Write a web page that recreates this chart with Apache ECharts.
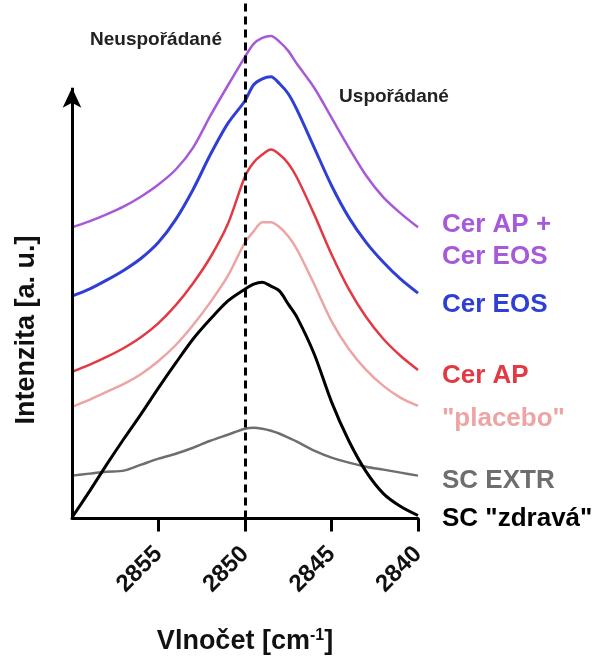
<!DOCTYPE html>
<html>
<head>
<meta charset="utf-8">
<script src="https://cdn.jsdelivr.net/npm/echarts@6/dist/echarts.min.js"></script>
<style>html,body{margin:0;padding:0;background:#fff;}#c{width:614px;height:660px;}</style>
</head>
<body>
<div id="c"></div>
<script>
// Wavenumber (cm^-1)
var wavenumbers = [2860,2859,2858,2857,2856,2855,2854,2853,2852,2851,2850,2849.5,2849,2848.5,2848,2847.5,2847,2846,2845,2844,2843,2842,2841,2840];
// Intensity (a. u.)
var cerApEos = [292,298,305,313,323,335,350,372,404,434,463,476,482,484,478,469,456,432,402,372,344,322,306,292];
var cerEos   = [223,230,239,249,261,277,300,330,365,396,419,435,441,443,436,426,410,372,334,302,277,257,240,226];
var cerAp    = [147,154,162,171,182,196,214,236,262,295,343,357,365,370,365,356,342,305,265,230,202,180,163,149];
var placebo  = [112,119,127,135,145,158,174,194,217,243,277,288,297,297,292,283,270,235,198,170,149,133,121,113];
var scExtr   = [43,45,47,48,54,60,65,71,78,84,90,91,90,88,85,81,77,68,61,56,52,49,46,43];
var scHealthy= [1,27,54,80,105,131,156,180,200,218,230,235,237,233,228,215,202,165,117,78,47,25,12,3];
var tickValues = [2840,2845,2850,2855];
var seriesNames = ['Cer AP +\nCer EOS','Cer EOS','Cer AP','"placebo"','SC EXTR','SC "zdravá"'];

var FONT = '"Liberation Sans", Arial, sans-serif';
function pairs(arr){ return wavenumbers.map(function(w,i){ return [w, arr[i]]; }); }

var specs = [
  {name: seriesNames[0], data: cerApEos, color:'#a659d8', width:2.5, off:13},
  {name: seriesNames[1], data: cerEos, color:'#2f3fd6', width:3, off:12},
  {name: seriesNames[2], data: cerAp, color:'#e23a44', width:2.5, off:6},
  {name: seriesNames[3], data: placebo, color:'#eda4a4', width:2.5, off:13},
  {name: seriesNames[4], data: scExtr, color:'#6e6e6e', width:2.5, off:5},
  {name: seriesNames[5], data: scHealthy, color:'#000000', width:3, off:3}
];

var series = specs.map(function(s){
  return {
    type:'line', name:s.name, data:pairs(s.data), showSymbol:false, smooth:0.3,
    lineStyle:{color:s.color, width:s.width}, itemStyle:{color:s.color},
    emphasis:{disabled:true}, animation:false,
    endLabel:{show:true, formatter:s.name, color:s.color, fontFamily:FONT, fontWeight:'bold',
      fontSize:26, lineHeight:32, distance:24, offset:[48,s.off], align:'left'}
  };
});

series.push({
  type:'line', data:[], silent:true, animation:false,
  markLine:{
    silent:true, animation:false, label:{show:false},
    data:[
      [{coord:[2860,0], symbol:'none', lineStyle:{color:'#000', width:3, type:'solid'}},
       {coord:[2860,432], symbol:'arrow', symbolSize:[14,20]}],
      [{coord:[2850,0], symbol:'none', lineStyle:{color:'#000', width:3, type:[8,5]}},
       {coord:[2850,520], symbol:'none'}]
    ]
  }
});

var chart = echarts.init(document.getElementById('c'), null, {renderer:'canvas'});
chart.setOption({
  backgroundColor:'#fff',
  animation:false,
  grid:{left:72, right:196, top:0, bottom:140},
  xAxis:{
    type:'value', min:2840, max:2860, interval:5, inverse:true,
    name:'Vlnočet [cm{sup|-1}]', nameLocation:'middle', nameGap:109,
    nameTextStyle:{fontFamily:FONT, fontWeight:'bold', fontSize:27, color:'#111',
      rich:{sup:{fontFamily:FONT, fontWeight:'bold', fontSize:16, color:'#111', verticalAlign:'top', padding:[0,0,12,0]}}},
    axisLine:{show:true, onZero:false, lineStyle:{color:'#000', width:3}},
    axisTick:{show:true, customValues:tickValues, length:13, lineStyle:{color:'#000', width:3}},
    axisLabel:{customValues:tickValues, rotate:45, margin:32, fontFamily:FONT, fontWeight:'bold', fontSize:24, color:'#111',
      formatter:function(v){ return String(v); }},
    splitLine:{show:false}
  },
  yAxis:{type:'value', min:0, max:520, show:false},
  graphic:[
    {type:'text', x:27, y:330, rotation:Math.PI/2, style:{text:'Intenzita [a. u.]', fontFamily:FONT, fontWeight:'bold', fontSize:27, fill:'#111', align:'center', verticalAlign:'middle'}},
    {type:'text', x:156, y:40, style:{text:'Neuspořádané', fontFamily:FONT, fontWeight:'bold', fontSize:19, fill:'#222', align:'center', verticalAlign:'middle'}},
    {type:'text', x:394, y:97, style:{text:'Uspořádané', fontFamily:FONT, fontWeight:'bold', fontSize:19, fill:'#222', align:'center', verticalAlign:'middle'}}
  ],
  series:series
});
</script>
</body>
</html>
